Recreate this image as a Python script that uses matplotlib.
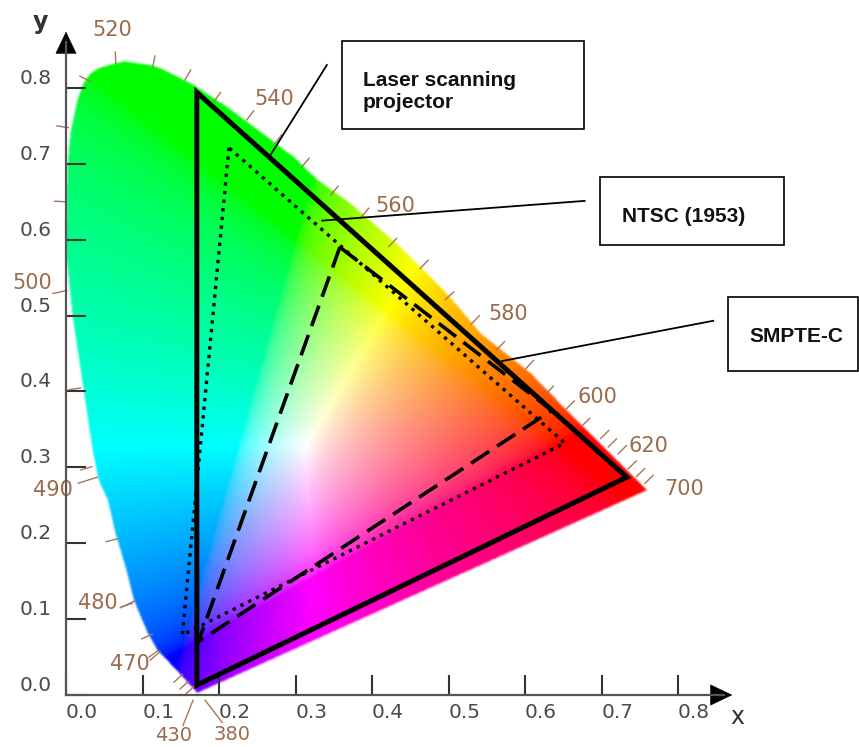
import numpy as np
import matplotlib
matplotlib.use("Agg")
import matplotlib.pyplot as plt
from matplotlib.path import Path
from matplotlib.patches import Polygon, Rectangle

# ---------------- data ----------------
# spectral locus (horseshoe outline), from the violet end round to the red end
locus_x = [0.171, 0.159, 0.140, 0.119, 0.106, 0.088, 0.077, 0.064, 0.054, 0.042,
           0.034, 0.021, 0.008, -0.001, -0.001, 0.001, 0.005, 0.014, 0.022, 0.031,
           0.044, 0.075, 0.110, 0.123, 0.166, 0.210, 0.254, 0.297, 0.328, 0.371,
           0.437, 0.502, 0.541, 0.607, 0.663, 0.715, 0.759]
locus_y = [0.003, 0.016, 0.037, 0.059, 0.082, 0.125, 0.169, 0.213, 0.257, 0.283,
           0.323, 0.411, 0.498, 0.586, 0.599, 0.696, 0.740, 0.784, 0.806, 0.819,
           0.827, 0.835, 0.830, 0.826, 0.804, 0.775, 0.742, 0.709, 0.679, 0.648,
           0.590, 0.524, 0.477, 0.424, 0.366, 0.314, 0.270]

# gamut triangles (red/green/blue primaries)
laser_x = [0.171, 0.171, 0.733]
laser_y = [0.794, 0.013, 0.287]
ntsc_x = [0.213, 0.152, 0.652]
ntsc_y = [0.721, 0.079, 0.332]
smpte_x = [0.358, 0.173, 0.635]
smpte_y = [0.590, 0.070, 0.375]

# wavelength tick marks on the locus
wl_tick_x = [0.150, 0.158, 0.165, 0.118, 0.110, 0.084, 0.064, 0.031, 0.016, -0.003,
             0.000, 0.029, 0.065, 0.114, 0.157, 0.195, 0.238, 0.275, 0.310, 0.348,
             0.388, 0.424, 0.465, 0.498, 0.532, 0.565, 0.603, 0.629, 0.656, 0.676,
             0.701, 0.711, 0.724, 0.737, 0.748, 0.759]
wl_tick_y = [0.025, 0.016, 0.009, 0.057, 0.079, 0.120, 0.205, 0.300, 0.404, 0.650,
             0.748, 0.810, 0.835, 0.830, 0.813, 0.784, 0.760, 0.729, 0.698, 0.661,
             0.632, 0.593, 0.564, 0.523, 0.491, 0.457, 0.432, 0.398, 0.379, 0.356,
             0.340, 0.329, 0.320, 0.300, 0.290, 0.281]

# wavelength labels
wl_labels = ["520", "540", "560", "580", "600", "620", "700",
             "500", "490", "480", "470", "430", "380"]
wl_label_x = [0.060, 0.272, 0.431, 0.578, 0.695, 0.761, 0.808,
              -0.044, -0.017, 0.041, 0.084, 0.140, 0.217]
wl_label_y = [0.876, 0.785, 0.644, 0.502, 0.393, 0.328, 0.271,
              0.543, 0.270, 0.121, 0.041, -0.054, -0.0525]

# short leader lines from labels to the locus
lead_x0 = [-0.017, 0.016, 0.071, 0.110, 0.153, 0.204]
lead_y0 = [0.529, 0.279, 0.115, 0.046, -0.040, -0.036]
lead_x1 = [0.001, 0.041, 0.090, 0.123, 0.166, 0.182]
lead_y1 = [0.533, 0.287, 0.124, 0.057, -0.007, -0.007]

# axis ticks
xticks = [0.0, 0.1, 0.2, 0.3, 0.4, 0.5, 0.6, 0.7, 0.8]
xtick_labels = ["0.0", "0.1", "0.2", "0.3", "0.4", "0.5", "0.6", "0.7", "0.8"]
yticks = [0.0, 0.1, 0.2, 0.3, 0.4, 0.5, 0.6, 0.7, 0.8]
ytick_labels = ["0.0", "0.1", "0.2", "0.3", "0.4", "0.5", "0.6", "0.7", "0.8"]

# callout boxes: (x0, y0, x1, y1), text anchor, leader line
box_texts = ["Laser scanning\nprojector", "NTSC (1953)", "SMPTE-C"]
box_x0 = [0.361, 0.698, 0.865]
box_x1 = [0.677, 0.939, 1.035]
box_y0 = [0.746, 0.593, 0.427]
box_y1 = [0.862, 0.682, 0.524]
box_tx = [0.388, 0.727, 0.893]
box_ty = [0.795, 0.631, 0.472]
call_x0 = [0.341, 0.678, 0.846]
call_y0 = [0.830, 0.651, 0.493]
call_x1 = [0.267, 0.335, 0.570]
call_y1 = [0.711, 0.625, 0.440]

# ---------------- figure ----------------
fig = plt.figure(figsize=(8.59, 7.47), dpi=100)
ax = fig.add_axes([0, 0, 1, 1])
X0, X1 = -66 / 765, (859 - 66) / 765
Y0, Y1 = (695 - 747) / 759, 695 / 759
ax.set_xlim(X0, X1)
ax.set_ylim(Y0, Y1)
fig.patch.set_facecolor("white")
ax.set_facecolor("white")

# ---- colour fill of the chromaticity diagram ----
gx = np.linspace(-0.02, 0.79, 830)
gy = np.linspace(-0.01, 0.86, 890)
GX, GY = np.meshgrid(gx, gy)
yy = np.clip(GY, 2e-3, None)
Xc = GX / yy
Yc = np.ones_like(GX)
Zc = (1 - GX - GY) / yy
M = np.array([[3.2406, -1.5372, -0.4986],
              [-0.9689, 1.8758, 0.0415],
              [0.0557, -0.2040, 1.0570]])
R = M[0, 0] * Xc + M[0, 1] * Yc + M[0, 2] * Zc
G = M[1, 0] * Xc + M[1, 1] * Yc + M[1, 2] * Zc
B = M[2, 0] * Xc + M[2, 1] * Yc + M[2, 2] * Zc
rgb = np.clip(np.dstack([R, G, B]), 0, None)
mx = rgb.max(axis=2, keepdims=True)
rgb = rgb / np.where(mx > 0, mx, 1)
rgb = np.where(rgb <= 0.0031308, 12.92 * rgb, 1.055 * np.power(rgb, 1 / 2.4) - 0.055)
rgb = np.clip(rgb, 0, 1)

path = Path(np.column_stack([locus_x + [locus_x[0]], locus_y + [locus_y[0]]]))
inside = path.contains_points(np.column_stack([GX.ravel(), GY.ravel()])).reshape(GX.shape).astype(float)


def blur(a, k):
    kern = np.ones(k) / k
    a = np.apply_along_axis(lambda r: np.convolve(r, kern, mode="same"), 1, a)
    a = np.apply_along_axis(lambda r: np.convolve(r, kern, mode="same"), 0, a)
    return a


alpha = blur(blur(inside, 3), 3)
rgba = np.dstack([rgb, alpha])
ax.imshow(rgba, extent=[gx[0], gx[-1], gy[0], gy[-1]], origin="lower",
          interpolation="bilinear", aspect="auto", zorder=1)

# ---- wavelength ticks ----
P = np.column_stack([locus_x, locus_y])
cen = np.array([0.30, 0.38])
brown = "#a5765a"
for tx, ty in zip(wl_tick_x, wl_tick_y):
    d = np.hypot(P[:, 0] - tx, P[:, 1] - ty)
    i = int(np.argmin(d))
    a = P[max(i - 1, 0)]
    b = P[min(i + 1, len(P) - 1)]
    t = b - a
    n = np.array([t[1], -t[0]])
    n = n / np.hypot(*n)
    if np.dot(n, np.array([tx, ty]) - cen) < 0:
        n = -n
    p0 = np.array([tx, ty]) - 0.003 * n
    p1 = np.array([tx, ty]) + 0.012 * n
    ax.plot([p0[0], p1[0]], [p0[1], p1[1]], color=brown, lw=1.0, zorder=2)

for xa, ya, xb, yb in zip(lead_x0, lead_y0, lead_x1, lead_y1):
    ax.plot([xa, xb], [ya, yb], color=brown, lw=1.0, zorder=2)

for lab, lx, ly in zip(wl_labels, wl_label_x, wl_label_y):
    fs = 14 if lab in ("430", "380") else 15
    ax.text(lx, ly, lab, color="#9c6a4c", fontsize=fs, family="DejaVu Sans",
            ha="center", va="center", zorder=3)

# ---- gamut triangles ----
ax.add_patch(Polygon(np.column_stack([laser_x, laser_y]), closed=True, fill=False,
                     ec="black", lw=3.6, joinstyle="miter", zorder=6))
ax.add_patch(Polygon(np.column_stack([ntsc_x, ntsc_y]), closed=True, fill=False,
                     ec="black", lw=2.4, ls=(0, (1, 1.6)), joinstyle="miter", zorder=5))
ax.add_patch(Polygon(np.column_stack([smpte_x, smpte_y]), closed=True, fill=False,
                     ec="black", lw=2.6, ls=(0, (6, 2.6)), joinstyle="miter", zorder=5))

# ---- callouts ----
for i in range(3):
    ax.add_patch(Rectangle((box_x0[i], box_y0[i]), box_x1[i] - box_x0[i],
                           box_y1[i] - box_y0[i], fill=True, fc="white",
                           ec="black", lw=1.2, zorder=7, clip_on=False))
    ax.text(box_tx[i], box_ty[i], box_texts[i], fontsize=15, fontweight="bold",
            family="Liberation Sans", ha="left", va="center", color="#111111",
            linespacing=1.25, zorder=8)
    ax.plot([call_x0[i], call_x1[i]], [call_y0[i], call_y1[i]], color="black",
            lw=1.3, zorder=7)

# ---- axes ----
for s in ["top", "right"]:
    ax.spines[s].set_visible(False)
ax.spines["left"].set_position(("data", 0))
ax.spines["bottom"].set_position(("data", 0))
ax.spines["left"].set_bounds(0, 0.86)
ax.spines["bottom"].set_bounds(0, 0.86)
for s in ["left", "bottom"]:
    ax.spines[s].set_color("#555555")
    ax.spines[s].set_linewidth(1.6)
    ax.spines[s].set_zorder(4)

ax.set_xticks(xticks)
ax.set_xticklabels(xtick_labels)
ax.set_yticks(yticks)
ax.set_yticklabels(ytick_labels)
ax.tick_params(axis="both", direction="in", length=14.5, width=1.5, color="#333333",
               labelsize=14.5, labelcolor="#4a4a4a")
ax.tick_params(axis="x", pad=6)
ax.tick_params(axis="y", pad=10)
for lab in ax.get_xticklabels():
    lab.set_horizontalalignment("left")
    lab.set_family("DejaVu Sans")
for lab in ax.get_yticklabels():
    lab.set_verticalalignment("bottom")
    lab.set_family("DejaVu Sans")

# arrow heads
ax.annotate("", xy=(0, 0.874), xytext=(0, 0.84),
            arrowprops=dict(arrowstyle="-|>,head_length=0.75,head_width=0.36",
                            mutation_scale=20, color="black", lw=0.5, shrinkA=0, shrinkB=0),
            zorder=4)
ax.annotate("", xy=(0.871, 0), xytext=(0.84, 0),
            arrowprops=dict(arrowstyle="-|>,head_length=0.75,head_width=0.36",
                            mutation_scale=20, color="black", lw=0.5, shrinkA=0, shrinkB=0),
            zorder=4)
ax.text(-0.034, 0.887, "y", fontsize=17, fontweight="bold", color="#333333",
        family="DejaVu Sans", ha="center", va="center")
ax.text(0.878, -0.029, "x", fontsize=17, color="#333333",
        family="DejaVu Sans", ha="center", va="center")

fig.savefig("out.png", dpi=100, facecolor="white")
